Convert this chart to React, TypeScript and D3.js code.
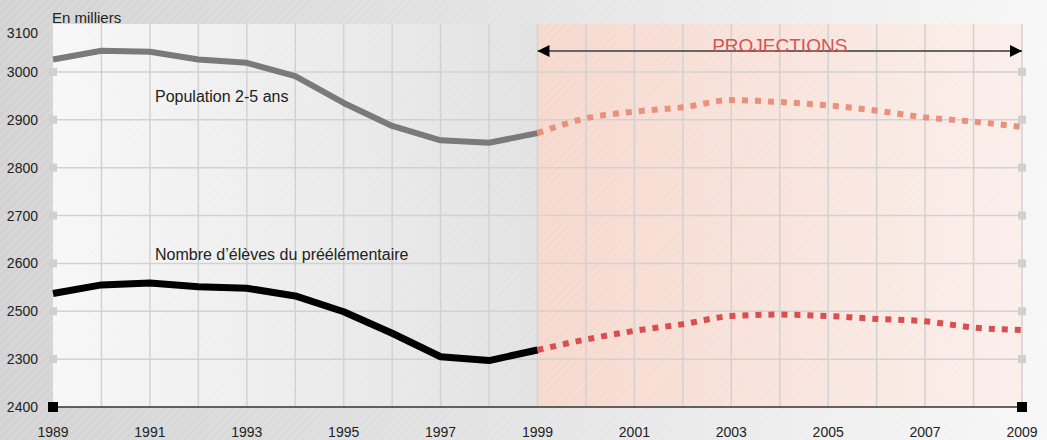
import * as d3 from "d3";

// years on the x axis
const years = d3.range(1989, 2010);
const xTickYears = [1989, 1991, 1993, 1995, 1997, 1999, 2001, 2003, 2005, 2007, 2009];

// y ticks (the source labels the two lowest lines in swapped order)
const yTickValues = [2300, 2400, 2500, 2600, 2700, 2800, 2900, 3000, 3100];
const yTickLabels = ["2400", "2300", "2500", "2600", "2700", "2800", "2900", "3000", "3100"];

// Population 2-5 ans, thousands
const population = [
  3026, 3044, 3042, 3026, 3019, 2991, 2935, 2887, 2857, 2852, 2872,
  2903, 2917, 2926, 2941, 2937, 2930, 2919, 2905, 2896, 2885,
];
// Nombre d'élèves du préélémentaire, thousands
const pupils = [
  2537, 2555, 2559, 2551, 2548, 2532, 2499, 2454, 2405, 2397, 2419,
  2441, 2459, 2473, 2490, 2493, 2490, 2484, 2479, 2466, 2461,
];

const projectionStart = 1999;

const W = 1047;
const H = 440;
const FONT = "'Liberation Sans Narrow', 'Liberation Sans', Arial, sans-serif";

export default function App() {
  const x = d3.scaleLinear().domain([1989, 2009]).range([53, 1022]);
  const y = d3.scaleLinear().domain([2300, 3100]).range([407, 24]);

  // observed part drawn with straight segments, projections smoothed
  const pastLine = d3
    .line<[number, number]>()
    .x((d) => x(d[0]))
    .y((d) => y(d[1]));
  const futureLine = d3
    .line<[number, number]>()
    .x((d) => x(d[0]))
    .y((d) => y(d[1]))
    .curve(d3.curveMonotoneX);

  const split = (vals: number[]) => {
    const pts = years.map((yr, i) => [yr, vals[i]] as [number, number]);
    return {
      past: pts.filter((p) => p[0] <= projectionStart),
      future: pts.filter((p) => p[0] >= projectionStart),
    };
  };
  const pop = split(population);
  const pup = split(pupils);

  const left = x(1989);
  const right = x(2009);
  const mid = x(projectionStart);
  const top = y(3100);
  const bottom = y(2300);

  return (
    <svg
      width={W}
      height={H}
      style={{ position: "absolute", left: 0, top: 0, fontFamily: FONT }}
    >
      <defs>
        <linearGradient id="bg" x1="0" x2="1" y1="0" y2="0">
          <stop offset="0" stopColor="#d3d3d3" />
          <stop offset="0.5" stopColor="#e4e4e4" />
          <stop offset="1" stopColor="#f7f7f7" />
        </linearGradient>
        <linearGradient id="past" x1="0" x2="1" y1="0" y2="0">
          <stop offset="0" stopColor="#f7f7f7" />
          <stop offset="1" stopColor="#e2e2e2" />
        </linearGradient>
        <linearGradient id="proj" x1="0" x2="1" y1="0" y2="0">
          <stop offset="0" stopColor="#f6d8cd" />
          <stop offset="1" stopColor="#fbefeb" />
        </linearGradient>
        <pattern id="hatch" width="6" height="6" patternUnits="userSpaceOnUse" patternTransform="rotate(45)">
          <line x1="0" y1="0" x2="0" y2="6" stroke="#ffffff" strokeOpacity="0.25" strokeWidth="1.5" />
        </pattern>
        <marker
          id="arrow"
          viewBox="0 0 10 10"
          refX="10"
          refY="5"
          markerWidth="12"
          markerHeight="13"
          orient="auto-start-reverse"
          markerUnits="userSpaceOnUse"
        >
          <path d="M0,0 L10,5 L0,10 Z" fill="#000" />
        </marker>
      </defs>

      <rect width={W} height={H} fill="url(#bg)" />
      <rect width={W} height={H} fill="url(#hatch)" />

      <rect x={left} y={top} width={mid - left} height={bottom - top} fill="url(#past)" />
      <rect x={mid} y={top} width={right - mid} height={bottom - top} fill="url(#proj)" />
      <rect x={left} y={top} width={right - left} height={bottom - top} fill="url(#hatch)" />

      {/* grid */}
      {years.slice(1).map((yr) => (
        <line key={yr} x1={x(yr)} x2={x(yr)} y1={top} y2={bottom} stroke="#d2d2d2" strokeWidth={1.5} />
      ))}
      {yTickValues.slice(1, -1).map((v) => (
        <line key={v} x1={left} x2={right} y1={y(v)} y2={y(v)} stroke="#d2d2d2" strokeWidth={1.5} />
      ))}
      {yTickValues.slice(1, -1).map((v) => (
        <g key={"sq" + v}>
          <rect x={left - 4} y={y(v) - 4} width={8} height={8} fill="#d0d0d0" />
          <rect x={right - 4} y={y(v) - 4} width={8} height={8} fill="#d0d0d0" />
        </g>
      ))}

      {/* bottom axis */}
      <line x1={left} x2={right} y1={bottom} y2={bottom} stroke="#333" strokeWidth={1.5} />
      <rect x={left - 5} y={bottom - 5} width={10} height={10} fill="#000" />
      <rect x={right - 5} y={bottom - 5} width={10} height={10} fill="#000" />

      {/* y labels */}
      {yTickValues.map((v, i) => (
        <text
          key={v}
          x={38}
          y={Math.max(y(v), 33)}
          textAnchor="end"
          dominantBaseline="central"
          fontSize={14}
          fill="#222"
        >
          {yTickLabels[i]}
        </text>
      ))}
      {/* x labels */}
      {xTickYears.map((yr) => (
        <text key={yr} x={x(yr)} y={432} textAnchor="middle" dominantBaseline="central" fontSize={14} fill="#222">
          {yr}
        </text>
      ))}

      <text x={52} y={23} fontSize={15} fill="#222">En milliers</text>

      {/* projections arrow */}
      <line
        x1={mid}
        x2={right}
        y1={51}
        y2={51}
        stroke="#666"
        strokeWidth={2}
        markerStart="url(#arrow)"
        markerEnd="url(#arrow)"
      />
      <text x={(mid + right) / 2} y={45} textAnchor="middle" dominantBaseline="central" fontSize={19} fill="#d9534f">
        PROJECTIONS
      </text>

      {/* series */}
      <path d={pastLine(pop.past) ?? ""} fill="none" stroke="#7a7a7a" strokeWidth={6} strokeLinejoin="round" />
      <path d={futureLine(pop.future) ?? ""} fill="none" stroke="#e8917c" strokeWidth={6} strokeDasharray="6 7" />
      <path d={pastLine(pup.past) ?? ""} fill="none" stroke="#000" strokeWidth={7} strokeLinejoin="round" />
      <path d={futureLine(pup.future) ?? ""} fill="none" stroke="#d84f50" strokeWidth={6} strokeDasharray="6 7" />

      <text x={155} y={96} dominantBaseline="central" fontSize={16} fill="#222">Population 2-5 ans</text>
      <text x={155} y={254} dominantBaseline="central" fontSize={16} fill="#222">
        Nombre d’élèves du préélémentaire
      </text>
    </svg>
  );
}
